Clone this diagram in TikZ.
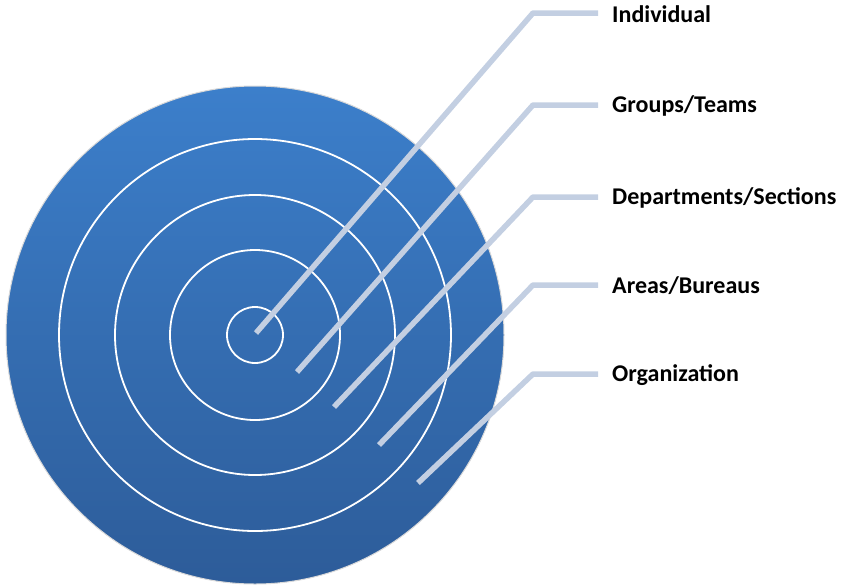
\documentclass[tikz,border=0pt]{standalone}
\usepackage{fontspec}
\setmainfont{Carlito}
\begin{document}
\begin{tikzpicture}[x=1pt,y=-1pt,
  ring/.style={draw=white,line width=1.8pt},
  leader/.style={draw=leadc,line width=5.5pt,line join=round},
  lbl/.style={anchor=west,inner sep=0pt,font=\fontsize{24}{26}\selectfont\bfseries}]
\definecolor{topblue}{HTML}{3C7FCB}
\definecolor{botblue}{HTML}{2D5C99}
\definecolor{leadc}{HTML}{C3CFE2}
\useasboundingbox (0,0) rectangle (841,587);
\coordinate (c) at (255,335);
\shade[top color=topblue,bottom color=botblue,draw=black!15,line width=1pt] (c) circle (249);
\node[circle,ring,minimum size=56pt,inner sep=0pt] (r1) at (c) {};
\node[circle,ring,minimum size=170pt,inner sep=0pt] (r2) at (c) {};
\node[circle,ring,minimum size=280pt,inner sep=0pt] (r3) at (c) {};
\node[circle,ring,minimum size=392pt,inner sep=0pt] (r4) at (c) {};
\coordinate (p1) at (256,333);
\coordinate (p2) at (297,372);
\coordinate (p3) at (334,407);
\coordinate (p4) at (379,445);
\coordinate (p5) at (418,483);
\coordinate (e1) at (533,13);
\coordinate (e2) at (533,105);
\coordinate (e3) at (533,197);
\coordinate (e4) at (533,285);
\coordinate (e5) at (533,374);
\coordinate (h1) at (598,13);
\coordinate (h2) at (598,105);
\coordinate (h3) at (598,197);
\coordinate (h4) at (598,285);
\coordinate (h5) at (598,374);
\node[lbl] (l1) at (612,14) {Individual};
\node[lbl] (l2) at (612,106) {Groups/Teams};
\node[lbl] (l3) at (612,198) {Departments/Sections};
\node[lbl] (l4) at (612,286) {Areas/Bureaus};
\node[lbl] (l5) at (612,375) {Organization};
\foreach \i in {1,...,5}{
  \draw[leader] (p\i) -- (e\i) -- (h\i);
}
\end{tikzpicture}
\end{document}
